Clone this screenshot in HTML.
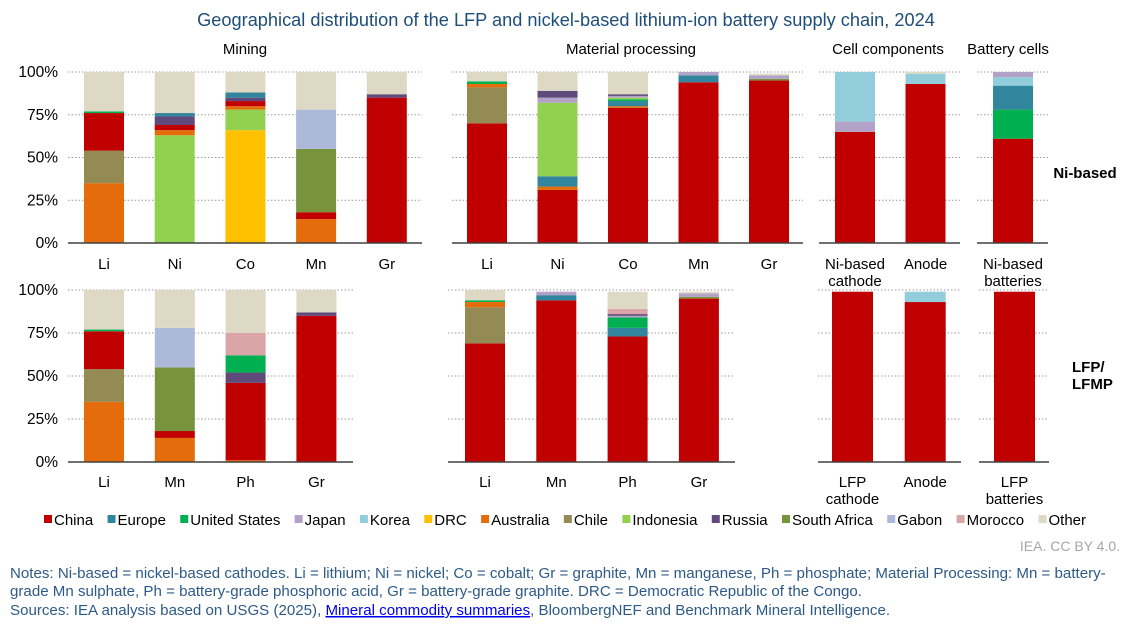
<!DOCTYPE html>
<html><head><meta charset="utf-8">
<style>
body{margin:0;background:#fff;width:1146px;height:622px;overflow:hidden;font-family:"Liberation Sans",Arial,sans-serif}
svg text{font-family:"Liberation Sans",Arial,sans-serif}
</style></head>
<body>
<svg id="c" width="1146" height="622" xmlns="http://www.w3.org/2000/svg">
<text x="566" y="26" text-anchor="middle" font-size="18.2" fill="#1f4e79">Geographical distribution of the LFP and nickel-based lithium-ion battery supply chain, 2024</text>
<text x="245" y="54" text-anchor="middle" font-size="15" fill="#000">Mining</text>
<text x="631" y="54" text-anchor="middle" font-size="15" fill="#000">Material processing</text>
<text x="888" y="54" text-anchor="middle" font-size="15" fill="#000">Cell components</text>
<text x="1008" y="54" text-anchor="middle" font-size="15" fill="#000">Battery cells</text>
<text x="1085" y="178" text-anchor="middle" font-size="15" font-weight="bold">Ni-based</text>
<text x="1072" y="372" font-size="15" font-weight="bold">LFP/</text>
<text x="1072" y="389" font-size="15" font-weight="bold">LFMP</text>
<text x="1120" y="551" text-anchor="end" font-size="14" fill="#a6a6a6">IEA. CC BY 4.0.</text>
<g font-size="15.1" fill="#2e5a87">
<text x="10" y="578">Notes: Ni-based = nickel-based cathodes. Li = lithium; Ni = nickel; Co = cobalt; Gr = graphite, Mn = manganese, Ph = phosphate; Material Processing: Mn = battery-</text>
<text x="10" y="596">grade Mn sulphate, Ph = battery-grade phosphoric acid, Gr = battery-grade graphite. DRC = Democratic Republic of the Congo.</text>
<text x="10" y="615">Sources: IEA analysis based on USGS (2025), <tspan fill="#0000ee" text-decoration="underline">Mineral commodity summaries</tspan>, BloombergNEF and Benchmark Mineral Intelligence.</text>
</g>
</svg>
<script>
const countries=["China","Europe","United States","Japan","Korea","DRC","Australia","Chile","Indonesia","Russia","South Africa","Gabon","Morocco","Other"];
const colors=["#c00000","#31859c","#00b050","#b3a2c7","#92cddc","#ffc000","#e46c0a","#948a54","#92d050","#604a7b","#77933c","#adb9d8","#d9a5a7","#ddd9c4"];
const yTicks=[0,25,50,75,100];
// each bar: list of [countryIndex, share%] in stacking order (bottom up)
const miningTopCats=["Li","Ni","Co","Mn","Gr"];
const miningTop=[
 [[6,35],[7,19],[0,22],[2,1],[13,23]],
 [[8,63],[6,3],[0,3],[9,5],[1,2],[13,24]],
 [[5,66],[8,12],[6,2],[0,3],[9,2],[1,3],[13,12]],
 [[6,14],[0,4],[10,37],[11,23],[13,22]],
 [[0,85],[9,2],[13,13]]];
const procTopCats=["Li","Ni","Co","Mn","Gr"];
const procTop=[
 [[0,70],[7,21],[6,2],[2,1.5],[13,5.5]],
 [[0,31],[6,2],[1,6],[8,43],[3,3],[9,4],[13,11]],
 [[0,79],[6,1],[1,3],[2,1],[8,1],[3,1],[9,1],[13,13]],
 [[0,94],[1,4],[3,2]],
 [[0,95],[10,1],[3,2],[13,1]]];
const cellTopCats=[["Ni-based","cathode"],["Anode"]];
const cellTop=[[[0,65],[3,6],[4,29]],[[0,93],[4,6],[13,1]]];
const battTopCats=[["Ni-based","batteries"]];
const battTop=[[[0,61],[2,17],[1,14],[4,5],[3,3]]];
const miningBotCats=["Li","Mn","Ph","Gr"];
const miningBot=[
 [[6,35],[7,19],[0,22],[2,1],[13,23]],
 [[6,14],[0,4],[10,37],[11,23],[13,22]],
 [[6,1],[0,45],[9,6],[2,10],[12,13],[13,25]],
 [[0,85],[9,2],[13,13]]];
const procBotCats=["Li","Mn","Ph","Gr"];
const procBot=[
 [[0,69],[7,21],[6,3],[2,1],[13,6]],
 [[0,94],[1,3],[3,2]],
 [[0,73],[1,5],[2,6],[3,1],[9,1],[12,3],[13,10]],
 [[0,95],[10,1],[3,2],[13,1]]];
const cellBotCats=[["LFP","cathode"],["Anode"]];
const cellBot=[[[0,99]],[[0,93],[4,6]]];
const battBotCats=[["LFP","batteries"]];
const battBot=[[[0,99]]];

const svg=document.getElementById('c');
const NS="http://www.w3.org/2000/svg";
function mk(t,a){const e=document.createElementNS(NS,t);for(const k in a)e.setAttribute(k,a[k]);svg.appendChild(e);return e;}
function panel(name,x0,x1,y0,y1,firstBar,step,bw,cats,data,showY,labelY){
  const y=v=>y1-(v/100)*(y1-y0);
  yTicks.forEach(t=>{
    if(t>0){const g=mk('line',{x1:x0,x2:x1,y1:y(t),y2:y(t),stroke:'#999','stroke-width':1,'stroke-dasharray':'1.5,2'});
    
    }
    if(showY){const l=mk('text',{x:58,y:y(t)+5,'text-anchor':'end','font-size':15.5});l.textContent=t+'%';
    
    }
  });
  data.forEach((bar,i)=>{
    let acc=0;const bx=firstBar+i*step;
    bar.forEach(([ci,v])=>{
      const r=mk('rect',{x:bx,y:y(acc+v),width:bw,height:y(acc)-y(acc+v),fill:colors[ci]});
      
      
      acc+=v;
    });
    const c=cats[i];const lines=Array.isArray(c)?c:[c];
    lines.forEach((s,k)=>{
      const t=mk('text',{x:bx+bw/2,y:labelY+k*17,'text-anchor':'middle','font-size':15});t.textContent=s;
      
      
    });
  });
  const ax=mk('line',{x1:x0,x2:x1,y1:y1,y2:y1,stroke:'#404040','stroke-width':1.5});
  
  
}
panel('mining-ni',68,422,72,243,84,70.7,40,miningTopCats,miningTop,true,269);
panel('processing-ni',452,803,72,243,467,70.5,40,procTopCats,procTop,false,269);
panel('cells-components-ni',819,960,72,243,835,70.5,40,cellTopCats,cellTop,false,269);
panel('battery-cells-ni',977,1048,72,243,993,70,40,battTopCats,battTop,false,269);
panel('mining-lfp',68,353,290,462,84,70.8,40,miningBotCats,miningBot,true,487);
panel('processing-lfp',448,735,290,462,465,71.3,40,procBotCats,procBot,false,487);
panel('cells-components-lfp',818,961,290,462,832,72.7,41,cellBotCats,cellBot,false,487);
panel('battery-cells-lfp',979,1049,290,462,994,70,41,battBotCats,battBot,false,487);

// legend
const items=[];let total=0;
countries.forEach((n,i)=>{
  const r=mk('rect',{x:0,y:515,width:8,height:8,fill:colors[i]});
  
  
  const t=mk('text',{x:0,y:525,'font-size':15});t.textContent=n;
  
  
  const w=10+t.getComputedTextLength();items.push([r,t,w]);total+=w;
});
const gap=(1086-44-total)/(countries.length-1);
let lx=44;
items.forEach(([r,t,w])=>{r.setAttribute('x',lx);t.setAttribute('x',lx+10);lx+=w+gap;});
</script>
</body></html>
